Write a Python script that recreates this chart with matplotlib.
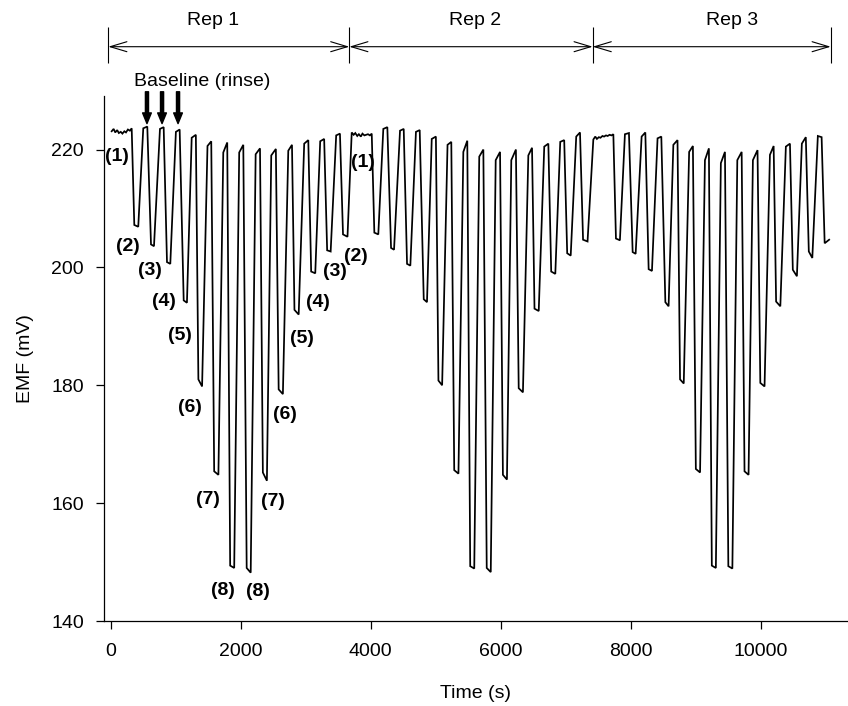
import matplotlib
matplotlib.use("Agg")
import matplotlib.pyplot as plt
import numpy as np

plt.rcParams['font.family'] = ['Liberation Sans', 'DejaVu Sans']
plt.rcParams['font.size'] = 14

# Vertex times of the measurement protocol (s after the start of a replicate):
# initial baseline (1), then standards (2)..(8)..(2), each followed by a rinse
step_time = [0, 30, 55, 85, 110, 140, 165, 195, 220, 250, 280, 308,
             348, 409, 486, 548, 605, 651, 743, 800, 851, 902, 988, 1046,
             1108, 1158, 1231, 1295, 1334, 1391, 1474, 1532, 1577, 1642,
             1717, 1778, 1823, 1885, 1962, 2025, 2077, 2139, 2215, 2282,
             2326, 2388, 2455, 2526, 2569, 2634, 2717, 2774, 2812, 2877,
             2962, 3025, 3069, 3132, 3208, 3269, 3315, 3369, 3454, 3512,
             3559, 3628]

rep_start = [15, 3708, 7425]

rep1_emf = [223.1, 223.5, 222.9, 223.3, 222.8, 223.0, 222.7, 223.1, 222.9, 223.4, 223.2, 223.6,
            207.2, 206.9, 223.6, 223.9, 203.9, 203.6, 223.5, 223.8, 200.9, 200.6, 223.0, 223.4,
            194.4, 194.0, 222.0, 222.5, 181.0, 179.8, 220.6, 221.4, 165.4, 164.8, 219.5, 221.2,
            149.4, 149.0, 219.5, 220.8, 149.0, 148.2, 219.2, 220.2, 165.2, 163.8, 219.0, 220.1,
            179.3, 178.5, 219.8, 220.8, 192.8, 192.0, 221.0, 221.6, 199.3, 199.0, 221.4, 221.8,
            202.9, 202.7, 222.4, 222.7, 205.6, 205.2]

rep2_emf = [222.9, 222.5, 222.8, 222.3, 222.6, 222.2, 222.7, 222.4, 222.5, 222.6, 222.4, 222.7,
            205.9, 205.6, 223.5, 223.8, 203.3, 203.0, 223.2, 223.5, 200.6, 200.3, 223.0, 223.3,
            194.6, 194.1, 221.8, 222.2, 180.8, 180.0, 220.8, 221.3, 165.6, 165.0, 219.6, 221.5,
            149.3, 148.9, 218.8, 220.0, 149.0, 148.3, 218.2, 219.6, 164.8, 164.0, 218.2, 220.0,
            179.5, 178.8, 219.0, 220.3, 193.0, 192.6, 220.5, 221.0, 199.3, 198.9, 221.3, 221.6,
            202.4, 202.0, 222.2, 222.9, 204.7, 204.4]

rep3_emf = [221.7, 222.2, 221.8, 222.1, 222.0, 222.3, 222.2, 222.4, 222.3, 222.5, 222.4, 222.6,
            204.9, 204.6, 222.6, 222.8, 202.6, 202.3, 222.2, 222.9, 199.7, 199.4, 221.9, 222.2,
            194.1, 193.4, 220.8, 221.6, 181.0, 180.3, 219.6, 220.6, 165.8, 165.2, 218.2, 220.2,
            149.4, 149.0, 217.7, 219.6, 149.3, 148.9, 218.2, 219.6, 165.4, 164.8, 218.2, 219.9,
            180.4, 179.8, 219.1, 220.6, 194.2, 193.4, 220.5, 221.0, 199.6, 198.5, 221.0, 222.1,
            202.7, 201.6, 222.3, 222.1, 204.1, 204.7]

# Replicate brackets
rep_names = ['Rep 1', 'Rep 2', 'Rep 3']
rep_edges = [-37, 3671, 7415, 11077]
rep_label_t = [1579, 5612, 9566]

# Standard labels for the first replicate
std_labels = ['(1)', '(2)', '(3)', '(4)', '(5)', '(6)', '(7)', '(8)',
              '(8)', '(7)', '(6)', '(5)', '(4)', '(3)', '(2)', '(1)']
std_label_t = [92, 271, 605, 820, 1066, 1220, 1502, 1733,
               2271, 2492, 2682, 2948, 3194, 3451, 3769, 3886]
std_label_emf = [218.8, 203.5, 199.4, 194.2, 188.5, 176.3, 160.7, 145.2,
                 145.0, 160.2, 175.0, 188.0, 194.0, 199.3, 201.9, 217.8]

# Rinse peaks marked as baseline
rinse_arrow_t = [558, 790, 1036]

x_ticks = [0, 2000, 4000, 6000, 8000, 10000]
y_ticks = [140, 160, 180, 200, 220]

# ---------------------------------------------------------------------------
time = np.concatenate([start + np.asarray(step_time, float) for start in rep_start])
emf = np.concatenate([rep1_emf, rep2_emf, rep3_emf])

fig = plt.figure(figsize=(8.48, 7.06), dpi=100)
ax = fig.add_axes([104 / 848, 1 - 621 / 706, 1 - 104 / 848, (621 - 96.5) / 706])

ax.plot(time, emf, color='black', lw=1.25, solid_joinstyle='miter')

ax.set_xlim(-103, 11343)
ax.set_ylim(140, 229)
ax.set_xticks(x_ticks)
ax.set_yticks(y_ticks)
ax.spines['top'].set_visible(False)
ax.spines['right'].set_visible(False)
for s in ('left', 'bottom'):
    ax.spines[s].set_linewidth(0.9)
ax.tick_params(axis='x', direction='out', length=6, width=0.9, pad=10)
ax.tick_params(axis='y', direction='out', length=5.5, width=0.9, pad=9)
ax.set_xlabel('Time (s)', labelpad=18)
ax.set_ylabel('EMF (mV)', labelpad=12)

# standard labels
for lab, t, v in zip(std_labels, std_label_t, std_label_emf):
    ax.text(t, v, lab, ha='center', va='center', fontweight='bold', fontsize=14)

# replicate brackets above the plot
bracket_y = 237.45
ax.vlines(rep_edges, 234.7, 240.8, color='black', lw=0.8, clip_on=False)
for name, t, a, b in zip(rep_names, rep_label_t, rep_edges[:-1], rep_edges[1:]):
    ax.annotate('', xy=(b, bracket_y), xytext=(a, bracket_y), annotation_clip=False,
                arrowprops=dict(arrowstyle='<->,head_length=0.6,head_width=0.18',
                                lw=0.8, color='black', shrinkA=0, shrinkB=0,
                                mutation_scale=20))
    ax.text(t, 241.9, name, ha='center', va='center', fontsize=14)

# baseline arrows
ax.text(1400, 231.5, 'Baseline (rinse)', ha='center', va='center', fontsize=14)
for t in rinse_arrow_t:
    ax.annotate('', xy=(t, 224.4), xytext=(t, 229.8), annotation_clip=False,
                arrowprops=dict(arrowstyle='simple,head_length=0.55,head_width=0.45,tail_width=0.16',
                                color='black', shrinkA=0, shrinkB=0, mutation_scale=14))

fig.savefig('out.png', dpi=100)
